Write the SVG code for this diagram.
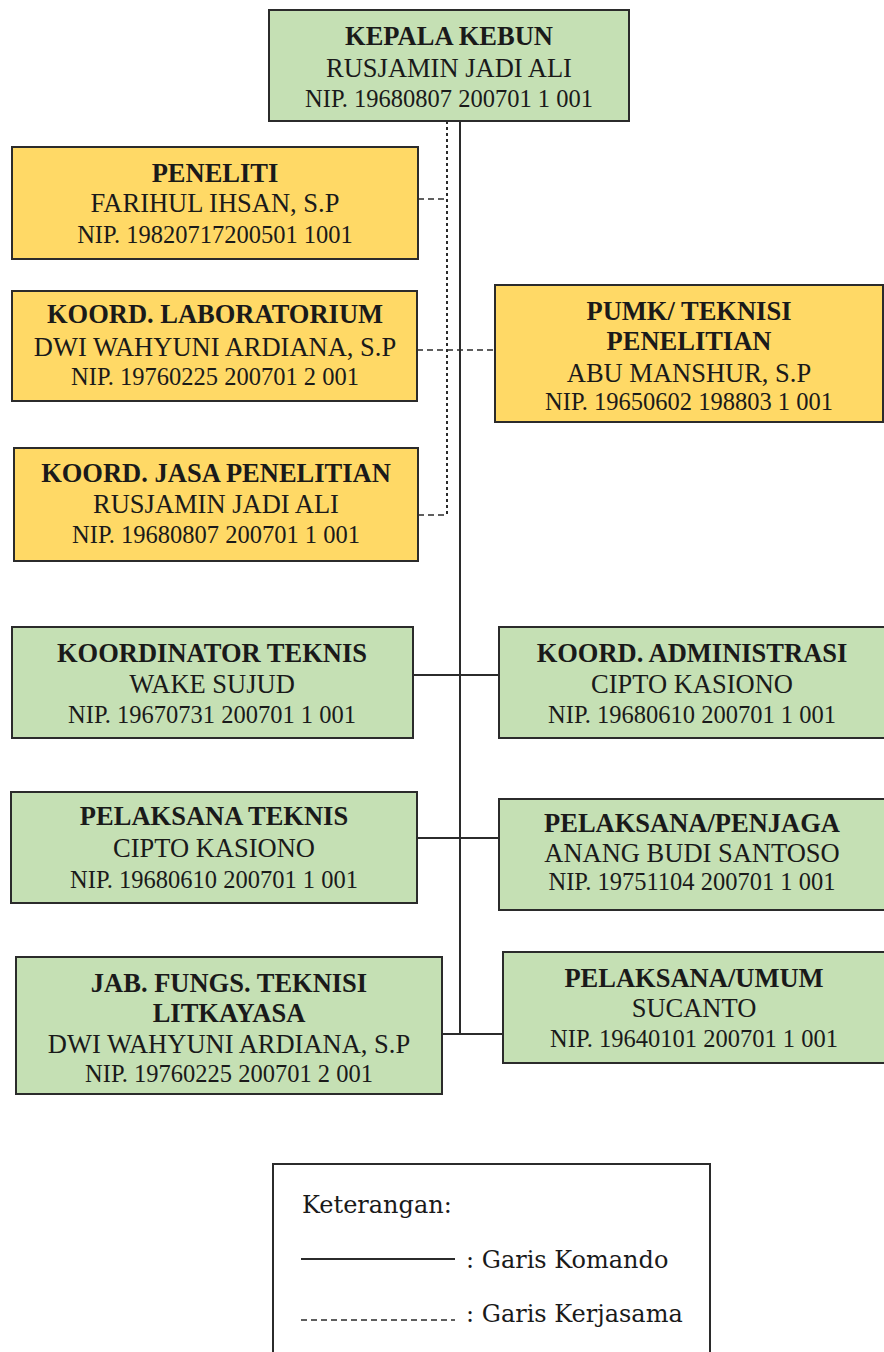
<svg xmlns="http://www.w3.org/2000/svg" width="884" height="1352" viewBox="0 0 884 1352">
<style>
.g{fill:#c5e0b4;stroke:#2b2b2b;stroke-width:2}
.y{fill:#ffd966;stroke:#2b2b2b;stroke-width:2}
text{font-family:"Liberation Serif","Times New Roman",serif;fill:#1a1a1a;text-anchor:middle}
.t{font-size:26.5px;font-weight:bold}
.n{font-size:26.5px}
.p{font-size:24.5px}
.solid{stroke:#2b2b2b;stroke-width:2;fill:none}
.dot{stroke:#2b2b2b;stroke-width:2;stroke-dasharray:3 3;fill:none}
.dash{stroke:#2b2b2b;stroke-width:1.6;stroke-dasharray:6 4;fill:none}
.lg{font-family:"DejaVu Serif",serif;font-size:24px;text-anchor:start}
</style>
<g id="connectors">
<line class="solid" x1="460" y1="121" x2="460" y2="1034"/>
<line class="solid" x1="413" y1="675" x2="499" y2="675"/>
<line class="solid" x1="417" y1="838" x2="499" y2="838"/>
<line class="solid" x1="442" y1="1034" x2="503" y2="1034"/>
<line class="dot" x1="447" y1="121" x2="447" y2="515"/>
<line class="dash" x1="418" y1="199" x2="447" y2="199"/>
<line class="dash" x1="417" y1="350" x2="495" y2="350"/>
<line class="dash" x1="418" y1="515" x2="447" y2="515"/>
</g>
<g id="kepala-kebun">
<rect class="g" x="269" y="10" width="360" height="111"/>
<text class="t" x="449" y="45">KEPALA KEBUN</text>
<text class="n" x="449" y="77">RUSJAMIN JADI ALI</text>
<text class="p" x="449" y="107">NIP. 19680807 200701 1 001</text>
</g>
<g id="peneliti">
<rect class="y" x="12" y="147" width="406" height="112"/>
<text class="t" x="215" y="182">PENELITI</text>
<text class="n" x="215" y="212">FARIHUL IHSAN, S.P</text>
<text class="p" x="215" y="243">NIP. 19820717200501 1001</text>
</g>
<g id="koord-lab">
<rect class="y" x="12" y="291" width="405" height="110"/>
<text class="t" x="215" y="323">KOORD. LABORATORIUM</text>
<text class="n" x="215" y="356">DWI WAHYUNI ARDIANA, S.P</text>
<text class="p" x="215" y="385">NIP. 19760225 200701 2 001</text>
</g>
<g id="pumk">
<rect class="y" x="495" y="285" width="388" height="137"/>
<text class="t" x="689" y="320">PUMK/ TEKNISI</text>
<text class="t" x="689" y="350">PENELITIAN</text>
<text class="n" x="689" y="382">ABU MANSHUR, S.P</text>
<text class="p" x="689" y="410">NIP. 19650602 198803 1 001</text>
</g>
<g id="koord-jasa">
<rect class="y" x="14" y="448" width="404" height="113"/>
<text class="t" x="216" y="482">KOORD. JASA PENELITIAN</text>
<text class="n" x="216" y="513">RUSJAMIN JADI ALI</text>
<text class="p" x="216" y="543">NIP. 19680807 200701 1 001</text>
</g>
<g id="koord-teknis">
<rect class="g" x="12" y="627" width="401" height="111"/>
<text class="t" x="212" y="662">KOORDINATOR TEKNIS</text>
<text class="n" x="212" y="693">WAKE SUJUD</text>
<text class="p" x="212" y="723">NIP. 19670731 200701 1 001</text>
</g>
<g id="koord-admin">
<rect class="g" x="499" y="627" width="386" height="111"/>
<text class="t" x="692" y="662">KOORD. ADMINISTRASI</text>
<text class="n" x="692" y="693">CIPTO KASIONO</text>
<text class="p" x="692" y="723">NIP. 19680610 200701 1 001</text>
</g>
<g id="pelaksana-teknis">
<rect class="g" x="11" y="792" width="406" height="111"/>
<text class="t" x="214" y="825">PELAKSANA TEKNIS</text>
<text class="n" x="214" y="857">CIPTO KASIONO</text>
<text class="p" x="214" y="888">NIP. 19680610 200701 1 001</text>
</g>
<g id="pelaksana-penjaga">
<rect class="g" x="499" y="799" width="386" height="111"/>
<text class="t" x="692" y="832">PELAKSANA/PENJAGA</text>
<text class="n" x="692" y="862">ANANG BUDI SANTOSO</text>
<text class="p" x="692" y="890">NIP. 19751104 200701 1 001</text>
</g>
<g id="jab-fungs">
<rect class="g" x="16" y="957" width="426" height="137"/>
<text class="t" x="229" y="992">JAB. FUNGS. TEKNISI</text>
<text class="t" x="229" y="1022">LITKAYASA</text>
<text class="n" x="229" y="1053">DWI WAHYUNI ARDIANA, S.P</text>
<text class="p" x="229" y="1082">NIP. 19760225 200701 2 001</text>
</g>
<g id="pelaksana-umum">
<rect class="g" x="503" y="952" width="382" height="111"/>
<text class="t" x="694" y="987">PELAKSANA/UMUM</text>
<text class="n" x="694" y="1017">SUCANTO</text>
<text class="p" x="694" y="1047">NIP. 19640101 200701 1 001</text>
</g>
<g id="legend">
<rect x="273" y="1164" width="437" height="200" fill="#ffffff" stroke="#2b2b2b" stroke-width="2"/>
<text class="lg" x="302" y="1213">Keterangan:</text>
<line x1="301" y1="1259" x2="455" y2="1259" stroke="#2b2b2b" stroke-width="2"/>
<text class="lg" x="466" y="1268">: Garis Komando</text>
<line x1="301" y1="1320" x2="455" y2="1320" stroke="#2b2b2b" stroke-width="1.6" stroke-dasharray="6 4"/>
<text class="lg" x="466" y="1322">: Garis Kerjasama</text>
</g>
</svg>
